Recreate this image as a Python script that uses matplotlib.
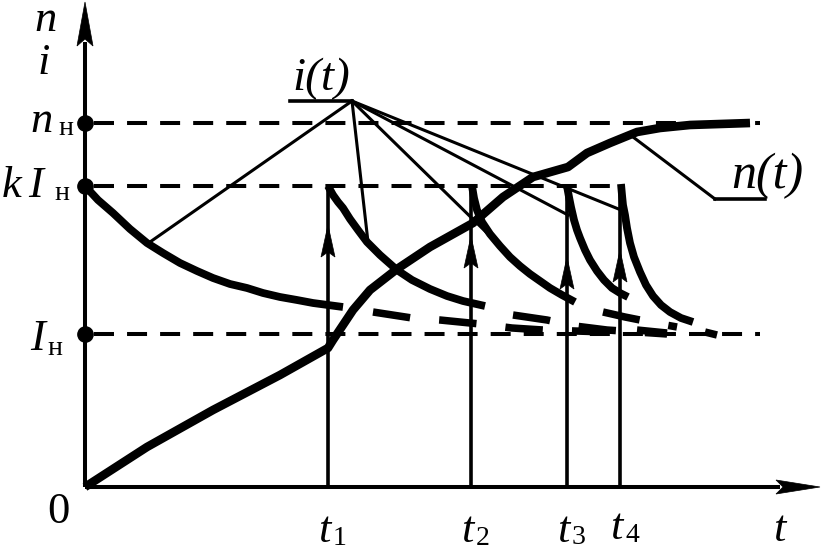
import matplotlib
matplotlib.use('Agg')
import matplotlib.pyplot as plt
from matplotlib.patches import Polygon

plt.rcParams['lines.scale_dashes'] = False
SERIF = ['Liberation Serif', 'DejaVu Serif']

# ---------------- data (diagram units: time horizontally, value vertically) ----------------
n_nom = 364          # n_н level
kI_nom = 301         # k*I_н level
I_nom = 153          # I_н level
t_axis_end = 735
v_axis_end = 485

t_switch = [243, 386, 482, 535]
t_sub = ['1', '2', '3', '4']
arrow_tip = [262, 251, 230, 237]

# current segments i(t)
i1_t = [0, 13, 28, 45, 62, 78, 95, 112, 128, 145, 162, 178, 195, 212, 228, 258]
i1_v = [301, 287, 274, 258, 244, 234, 224, 216, 209, 203, 199, 194, 190, 187, 184, 180]
i2_t = [243, 248, 253, 258, 265, 273, 282, 295, 312, 327, 345, 362, 378, 400]
i2_v = [301, 292, 285, 279, 268, 257, 245, 232, 217, 207, 198, 191, 186, 181]
i3_t = [387, 389, 392, 397, 405, 415, 425, 435, 445, 455, 465, 477, 490]
i3_v = [301, 289, 277, 265, 253, 241, 230, 221, 213, 206, 199, 192, 185]
i4_t = [482, 484, 486, 489, 492, 495, 500, 505, 512, 519, 527, 535, 543]
i4_v = [301, 290, 280, 267, 257, 249, 237, 227, 216, 207, 199, 194, 190]
i5_t = [536, 537, 538, 540, 542, 545, 549, 555, 561, 568, 576, 585, 596, 608]
i5_v = [303, 292, 282, 272, 259, 244, 230, 215, 202, 191, 182, 175, 169, 165]

# dashed continuations of the current segments
c1_t = [288, 327, 355, 395, 427, 458, 490, 522]
c1_v = [175, 169, 167, 163, 159, 157, 156, 155]
c2_t = [428, 462, 490, 522, 552, 582]
c2_v = [172, 167, 161, 157, 155, 153]
c3_t = [518, 540, 570, 592]
c3_v = [175, 170, 164, 160]
c4_t = [552, 582]
c4_v = [157, 154]
c5_t = [620, 632]
c5_v = [155, 152]

# speed n(t)
n_t = [0, 62, 128, 195, 243, 248, 268, 285, 312, 345, 388, 418, 448, 483, 502, 525, 552, 575, 605, 665]
n_v = [0, 40, 77, 112, 139, 147, 177, 197, 218, 240, 264, 290, 310, 320, 334, 344, 355, 359, 362, 364]

# leader lines
i_label_pt = (267, 386)
i_label_under = 205
i_leader_t = [65, 283, 402, 483, 536]
i_leader_v = [245, 245, 254, 272, 277]
n_label_pt = (630, 288)
n_label_under = 680
n_leader_end = (548, 350)

ref_end_n = 675
ref_end_k = 535
ref_end_I = 675

# ---------------- figure ----------------
fig = plt.figure(figsize=(8.25, 5.51), dpi=100)
ax = fig.add_axes([0, 0, 1, 1])
ax.set_xlim(-85, 740)
ax.set_ylim(-64, 487)
ax.axis('off')

K = 'black'

def head(x, y, d, L=28, W=7, N=5, z=5):
    if d == 'up':
        pts = [(x, y), (x - W, y - L), (x, y - L + N), (x + W, y - L)]
    else:
        pts = [(x, y), (x - L, y + W), (x - L + N, y), (x - L, y - W)]
    ax.add_patch(Polygon(pts, closed=True, fc=K, ec=K, lw=0.5, zorder=z))

# axes with arrows
ax.plot([0, 0], [0, v_axis_end - 40], color=K, lw=2.9, solid_capstyle='butt', zorder=4)
ax.plot([0, t_axis_end - 40], [0, 0], color=K, lw=2.9, solid_capstyle='butt', zorder=4)
head(0, v_axis_end, 'up', L=44, W=8, N=7)
head(t_axis_end, 0, 'right', L=44, W=7, N=7)

# reference dashed levels
dash_ref = (0, (14.4, 9.4))
for lvl, xe in [(n_nom, ref_end_n), (kI_nom, ref_end_k), (I_nom, ref_end_I)]:
    ax.plot([9, xe], [lvl, lvl], color=K, lw=2.9, linestyle=dash_ref, dash_capstyle='butt', zorder=2)
    ax.plot([0], [lvl], 'o', color=K, ms=11, zorder=6)

# switching-time arrows
for ts, tip in zip(t_switch, arrow_tip):
    ax.plot([ts, ts], [0, kI_nom], color=K, lw=2.6, solid_capstyle='butt', zorder=3)
    head(ts, tip, 'up', L=32, W=7, N=5)

# current segments
for tt, vv in [(i1_t, i1_v), (i2_t, i2_v), (i3_t, i3_v), (i4_t, i4_v), (i5_t, i5_v)]:
    ax.plot(tt, vv, color=K, lw=5.6, solid_capstyle='butt', solid_joinstyle='round', zorder=5)

dash_thick = (0, (27, 21))
for tt, vv in [(c1_t, c1_v), (c2_t, c2_v), (c3_t, c3_v), (c4_t, c4_v), (c5_t, c5_v)]:
    ax.plot(tt, vv, color=K, lw=5.4, linestyle=dash_thick, dash_capstyle='butt', zorder=5)

# speed curve
ax.plot(n_t, n_v, color=K, lw=6.2, solid_capstyle='butt', solid_joinstyle='round', zorder=5)

# leader lines
for lt, lv in zip(i_leader_t, i_leader_v):
    ax.plot([i_label_pt[0], lt], [i_label_pt[1], lv], color=K, lw=2.2, zorder=4)
ax.plot([i_label_under, i_label_pt[0]], [i_label_pt[1], i_label_pt[1]], color=K, lw=2.6, zorder=4)
ax.plot([n_label_pt[0], n_label_under], [n_label_pt[1], n_label_pt[1]], color=K, lw=2.6, zorder=4)
ax.plot([n_label_pt[0], n_leader_end[0]], [n_label_pt[1], n_leader_end[1]], color=K, lw=2.2, zorder=4)

# ---------------- text ----------------
def txt(x, y, s, size, style='italic', ha='left'):
    ax.text(x, y, s, fontsize=size, family=SERIF, style=style, ha=ha, va='baseline', color=K, zorder=7)

BIG = 32
SUB = 20
txt(-39, 456, 'n', BIG, ha='center')
txt(-41, 413, 'i', BIG, ha='center')
txt(-55, 355, 'n', BIG)
txt(-27, 352, 'н', SUB, style='normal')
txt(-83, 290, 'k', BIG)
txt(-57, 290, 'I', BIG)
txt(-31, 287, 'н', SUB, style='normal')
txt(-55, 137, 'I', BIG)
txt(-38, 132, 'н', SUB, style='normal')
txt(-27, -36, '0', BIG, style='normal', ha='center')
t_base = [-55, -55, -55, -52]
s_base = [-58, -58, -57, -55]
for ts, sub, tb, sb in zip(t_switch, t_sub, t_base, s_base):
    txt(ts - 10, tb, 't', BIG)
    txt(ts + 5, sb, sub, SUB, style='normal')
txt(688, -54, 't', BIG)
txt(207, 397, 'i(t)', 34)
txt(646, 299, 'n(t)', 36)

fig.savefig('out.png', dpi=100)
